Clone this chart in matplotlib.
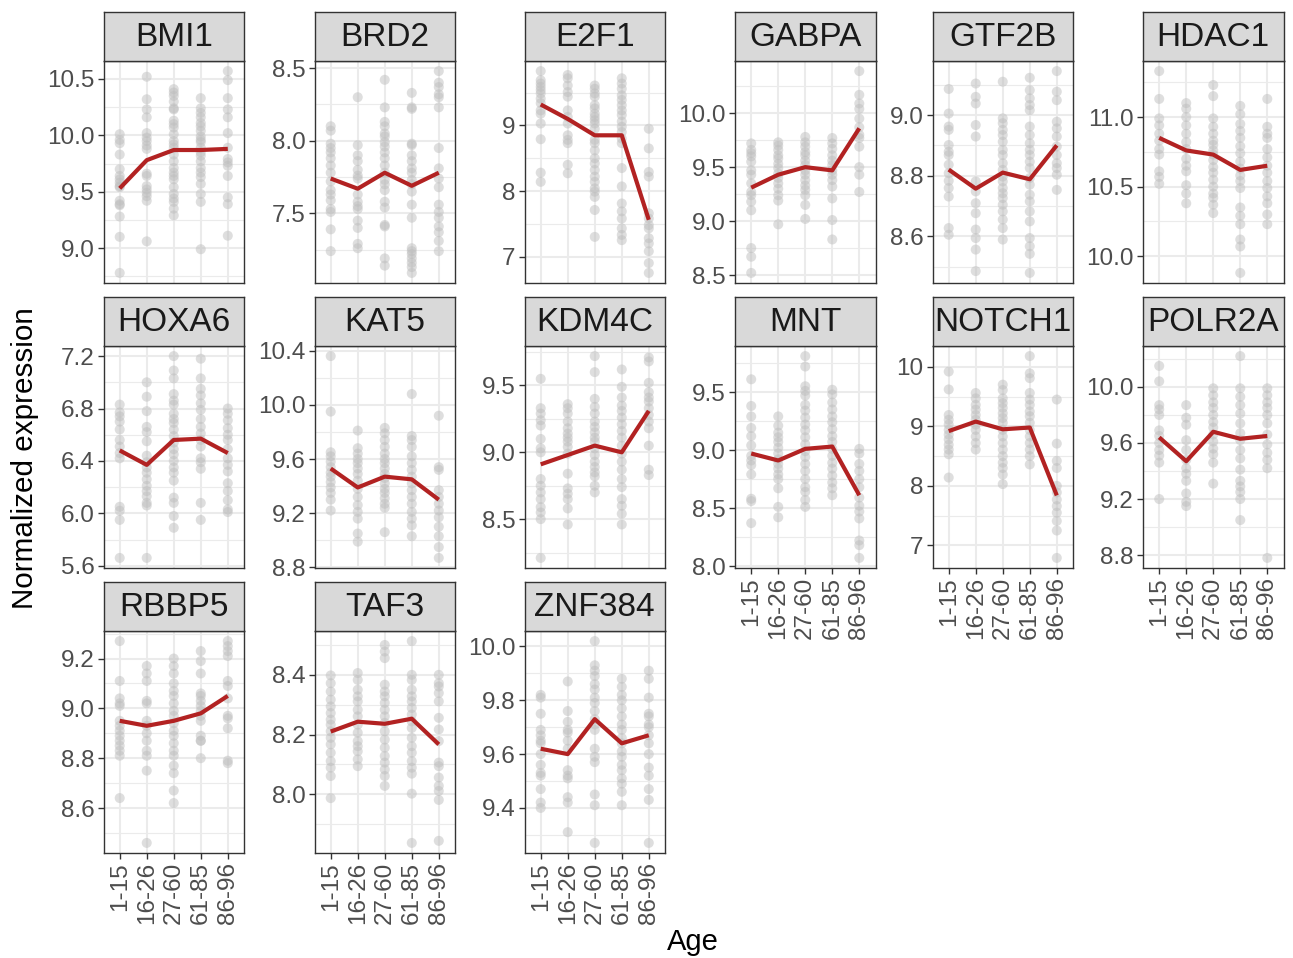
import numpy as np
import matplotlib
matplotlib.use("Agg")
import matplotlib.pyplot as plt

plt.rcParams['font.family'] = ['Liberation Sans', 'DejaVu Sans']

age_groups = ["1-15", "16-26", "27-60", "61-85", "86-96"]

# ---- expression values per gene, one list per age group ----
bmi1_pts = [
    [10.01, 9.96, 9.93, 9.83, 9.70, 9.64, 9.61, 9.58, 9.55, 9.54, 9.42, 9.39, 9.38, 9.28, 9.10, 8.78],
    [10.52, 10.32, 10.23, 10.16, 10.02, 9.98, 9.95, 9.91, 9.88, 9.66, 9.64, 9.55, 9.52, 9.49, 9.46, 9.42, 9.06],
    [10.41, 10.38, 10.35, 10.30, 10.24, 10.23, 10.13, 10.10, 10.07, 10.01, 9.95, 9.92, 9.89, 9.83, 9.77,
     9.71, 9.67, 9.64, 9.61, 9.54, 9.48, 9.44, 9.41, 9.35, 9.29],
    [10.33, 10.24, 10.20, 10.16, 10.11, 10.08, 10.04, 9.99, 9.96, 9.94, 9.89, 9.85, 9.82, 9.77, 9.71,
     9.67, 9.63, 9.57, 9.48, 9.41, 8.99],
    [10.57, 10.49, 10.33, 10.23, 10.16, 10.02, 9.89, 9.79, 9.76, 9.73, 9.64, 9.45, 9.39, 9.11],
]
bmi1_mean = [9.53, 9.78, 9.87, 9.87, 9.88]
bmi1_ticks = ["9.0", "9.5", "10.0", "10.5"]

brd2_pts = [
    [8.10, 8.07, 7.98, 7.95, 7.92, 7.88, 7.83, 7.78, 7.72, 7.66, 7.63, 7.59, 7.53, 7.51, 7.39, 7.24],
    [8.30, 7.97, 7.90, 7.86, 7.80, 7.76, 7.74, 7.63, 7.58, 7.55, 7.53, 7.45, 7.40, 7.29, 7.26],
    [8.42, 8.23, 8.13, 8.10, 8.05, 8.03, 7.99, 7.96, 7.92, 7.88, 7.83, 7.78, 7.73, 7.70, 7.66, 7.58,
     7.54, 7.42, 7.41, 7.19, 7.14],
    [8.33, 8.23, 8.22, 7.98, 7.97, 7.90, 7.86, 7.81, 7.78, 7.73, 7.70, 7.65, 7.56, 7.47, 7.26, 7.24,
     7.22, 7.19, 7.16, 7.13, 7.09],
    [8.48, 8.40, 8.37, 8.32, 8.30, 8.23, 7.95, 7.81, 7.74, 7.68, 7.56, 7.51, 7.47, 7.41, 7.37, 7.31, 7.24],
]
brd2_mean = [7.74, 7.67, 7.78, 7.69, 7.78]
brd2_ticks = ["7.5", "8.0", "8.5"]

e2f1_pts = [
    [9.83, 9.69, 9.64, 9.59, 9.54, 9.49, 9.41, 9.34, 9.23, 9.18, 9.03, 8.79, 8.28, 8.14],
    [9.77, 9.72, 9.61, 9.51, 9.44, 9.23, 9.13, 9.03, 8.85, 8.78, 8.73, 8.40, 8.27],
    [9.61, 9.56, 9.49, 9.44, 9.31, 9.26, 9.18, 9.13, 9.08, 9.03, 8.95, 8.78, 8.73, 8.62, 8.50, 8.42,
     8.32, 8.22, 8.14, 8.04, 7.99, 7.91, 7.71, 7.30],
    [9.72, 9.64, 9.56, 9.46, 9.39, 9.31, 9.23, 9.16, 9.06, 8.98, 8.90, 8.80, 8.73, 8.35, 8.07, 7.81,
     7.69, 7.58, 7.43, 7.33, 7.25],
    [8.95, 8.65, 8.29, 8.22, 7.66, 7.58, 7.48, 7.43, 7.28, 7.20, 7.08, 6.90, 6.75],
]
e2f1_mean = [9.32, 9.10, 8.85, 8.85, 7.56]
e2f1_ticks = ["7", "8", "9"]

gabpa_pts = [
    [9.72, 9.66, 9.63, 9.60, 9.55, 9.47, 9.43, 9.35, 9.27, 9.24, 9.18, 9.10, 8.75, 8.67, 8.52],
    [9.73, 9.70, 9.66, 9.61, 9.58, 9.53, 9.49, 9.44, 9.40, 9.35, 9.30, 9.24, 9.19, 8.97],
    [9.78, 9.73, 9.69, 9.64, 9.61, 9.56, 9.52, 9.47, 9.43, 9.38, 9.33, 9.29, 9.24, 9.15, 9.02],
    [9.77, 9.72, 9.67, 9.61, 9.56, 9.52, 9.47, 9.43, 9.38, 9.32, 9.21, 9.01, 8.83],
    [10.39, 10.17, 10.09, 10.04, 9.95, 9.87, 9.80, 9.77, 9.69, 9.50, 9.43, 9.27],
]
gabpa_mean = [9.31, 9.43, 9.50, 9.47, 9.86]
gabpa_ticks = ["8.5", "9.0", "9.5", "10.0"]

gtf2b_pts = [
    [9.086, 9.005, 8.962, 8.951, 8.901, 8.879, 8.868, 8.836, 8.808, 8.783, 8.759, 8.731, 8.627, 8.605],
    [9.104, 9.060, 9.038, 8.967, 8.929, 8.781, 8.748, 8.709, 8.676, 8.622, 8.594, 8.556, 8.485],
    [9.110, 8.989, 8.973, 8.951, 8.934, 8.912, 8.885, 8.868, 8.841, 8.819, 8.797, 8.781, 8.759,
     8.742, 8.726, 8.704, 8.682, 8.655, 8.627, 8.589],
    [9.123, 9.082, 9.055, 9.033, 9.016, 8.962, 8.934, 8.907, 8.885, 8.868, 8.846, 8.825, 8.792,
     8.770, 8.737, 8.715, 8.682, 8.649, 8.594, 8.567, 8.542, 8.479],
    [9.145, 9.077, 9.049, 8.978, 8.956, 8.929, 8.896, 8.868, 8.841, 8.825, 8.803, 8.753],
]
gtf2b_mean = [8.82, 8.757, 8.81, 8.788, 8.90]
gtf2b_ticks = ["8.6", "8.8", "9.0"]

hdac1_pts = [
    [11.33, 11.13, 10.99, 10.94, 10.88, 10.83, 10.77, 10.73, 10.61, 10.57, 10.52],
    [11.10, 11.06, 11.00, 10.94, 10.88, 10.82, 10.77, 10.70, 10.65, 10.61, 10.51, 10.45, 10.38],
    [11.23, 11.15, 10.99, 10.93, 10.88, 10.83, 10.80, 10.76, 10.73, 10.69, 10.64, 10.60, 10.55,
     10.50, 10.45, 10.42, 10.37, 10.31],
    [11.08, 11.02, 10.95, 10.90, 10.85, 10.79, 10.74, 10.68, 10.63, 10.58, 10.54, 10.49, 10.35,
     10.29, 10.23, 10.12, 10.07, 9.88],
    [11.13, 10.93, 10.88, 10.85, 10.77, 10.71, 10.65, 10.60, 10.54, 10.49, 10.43, 10.38, 10.30, 10.23],
]
hdac1_mean = [10.85, 10.76, 10.73, 10.62, 10.65]
hdac1_ticks = ["10.0", "10.5", "11.0"]

hoxa6_pts = [
    [6.83, 6.77, 6.74, 6.70, 6.64, 6.56, 6.51, 6.46, 6.42, 6.05, 6.02, 5.95, 5.66],
    [7.00, 6.89, 6.78, 6.66, 6.62, 6.55, 6.44, 6.39, 6.35, 6.31, 6.26, 6.21, 6.17, 6.13, 6.08, 6.06, 5.66],
    [7.20, 7.09, 7.03, 6.91, 6.86, 6.83, 6.76, 6.72, 6.69, 6.64, 6.59, 6.54, 6.49, 6.45, 6.40, 6.35,
     6.31, 6.25, 6.12, 6.08, 5.98, 5.89],
    [7.18, 7.03, 6.95, 6.90, 6.84, 6.79, 6.72, 6.66, 6.61, 6.56, 6.51, 6.42, 6.39, 6.34, 6.08, 5.95],
    [6.80, 6.76, 6.71, 6.65, 6.60, 6.56, 6.49, 6.42, 6.37, 6.32, 6.23, 6.17, 6.10, 6.03, 6.01],
]
hoxa6_mean = [6.48, 6.37, 6.56, 6.57, 6.46]
hoxa6_ticks = ["5.6", "6.0", "6.4", "6.8", "7.2"]

kat5_pts = [
    [10.36, 9.95, 9.65, 9.62, 9.58, 9.54, 9.50, 9.47, 9.43, 9.39, 9.35, 9.30, 9.22],
    [9.81, 9.68, 9.64, 9.60, 9.57, 9.53, 9.49, 9.44, 9.38, 9.32, 9.26, 9.21, 9.16, 9.05, 8.99],
    [9.83, 9.79, 9.74, 9.69, 9.64, 9.60, 9.57, 9.53, 9.49, 9.46, 9.42, 9.38, 9.35, 9.31, 9.27, 9.24, 9.06],
    [10.08, 9.77, 9.74, 9.69, 9.62, 9.57, 9.52, 9.47, 9.42, 9.37, 9.32, 9.27, 9.21, 9.16, 9.11, 9.03],
    [9.92, 9.54, 9.52, 9.37, 9.32, 9.27, 9.22, 9.17, 9.10, 9.03, 8.95, 8.87],
]
kat5_mean = [9.53, 9.39, 9.47, 9.45, 9.30]
kat5_ticks = ["8.8", "9.2", "9.6", "10.0", "10.4"]

kdm4c_pts = [
    [9.55, 9.33, 9.29, 9.24, 9.20, 9.10, 9.03, 9.00, 8.80, 8.75, 8.70, 8.65, 8.59, 8.55, 8.50, 8.21],
    [9.36, 9.33, 9.29, 9.23, 9.18, 9.14, 9.11, 9.08, 9.04, 8.99, 8.84, 8.73, 8.69, 8.65, 8.58, 8.46],
    [9.72, 9.60, 9.40, 9.34, 9.29, 9.23, 9.19, 9.15, 9.11, 9.08, 9.03, 8.98, 8.93, 8.89, 8.85, 8.82,
     8.75, 8.70],
    [9.62, 9.49, 9.41, 9.35, 9.31, 9.26, 9.21, 9.16, 9.11, 9.05, 8.99, 8.93, 8.87, 8.80, 8.74, 8.65,
     8.60, 8.54, 8.46],
    [9.71, 9.68, 9.52, 9.45, 9.41, 9.38, 9.33, 9.28, 9.23, 9.18, 9.05, 8.87, 8.83],
]
kdm4c_mean = [8.91, 8.98, 9.05, 9.00, 9.31]
kdm4c_ticks = ["8.5", "9.0", "9.5"]

mnt_pts = [
    [9.61, 9.38, 9.29, 9.19, 9.12, 9.04, 8.95, 8.91, 8.87, 8.79, 8.58, 8.56, 8.37],
    [9.29, 9.21, 9.15, 9.11, 9.07, 9.02, 8.97, 8.92, 8.88, 8.84, 8.79, 8.75, 8.67, 8.51, 8.42],
    [9.81, 9.72, 9.55, 9.51, 9.47, 9.39, 9.34, 9.28, 9.22, 9.17, 9.11, 9.05, 8.99, 8.94, 8.88, 8.82,
     8.75, 8.68, 8.64, 8.57, 8.51],
    [9.52, 9.48, 9.41, 9.35, 9.29, 9.24, 9.18, 9.12, 9.07, 9.01, 8.95, 8.89, 8.84, 8.78, 8.72, 8.67, 8.61],
    [9.01, 8.97, 8.88, 8.82, 8.75, 8.68, 8.59, 8.52, 8.47, 8.41, 8.22, 8.18, 8.07],
]
mnt_mean = [8.97, 8.91, 9.01, 9.03, 8.61]
mnt_ticks = ["8.0", "8.5", "9.0", "9.5"]

notch1_pts = [
    [9.92, 9.62, 9.19, 9.11, 9.03, 8.94, 8.86, 8.78, 8.69, 8.61, 8.53, 8.14],
    [9.56, 9.47, 9.36, 9.28, 9.19, 9.11, 9.03, 8.94, 8.83, 8.72, 8.61],
    [9.70, 9.61, 9.47, 9.39, 9.31, 9.22, 9.14, 9.06, 8.94, 8.83, 8.72, 8.61, 8.50, 8.39, 8.30, 8.19, 8.03],
    [10.18, 9.89, 9.81, 9.56, 9.45, 9.36, 9.25, 9.17, 9.06, 8.94, 8.83, 8.72, 8.61, 8.50, 8.36],
    [9.45, 8.71, 8.42, 8.30, 8.00, 7.89, 7.77, 7.66, 7.55, 7.41, 7.25, 6.79],
]
notch1_mean = [8.92, 9.08, 8.95, 8.98, 7.84]
notch1_ticks = ["7", "8", "9", "10"]

polr2a_pts = [
    [10.15, 10.04, 9.87, 9.84, 9.80, 9.69, 9.65, 9.60, 9.55, 9.51, 9.46, 9.20],
    [9.87, 9.78, 9.73, 9.62, 9.55, 9.48, 9.42, 9.38, 9.33, 9.24, 9.18, 9.15],
    [9.99, 9.94, 9.89, 9.85, 9.80, 9.75, 9.71, 9.66, 9.61, 9.56, 9.52, 9.46, 9.31],
    [10.22, 9.99, 9.93, 9.87, 9.81, 9.74, 9.67, 9.62, 9.55, 9.49, 9.41, 9.33, 9.29, 9.25, 9.20, 9.05],
    [9.99, 9.94, 9.89, 9.85, 9.80, 9.74, 9.66, 9.59, 9.53, 9.48, 9.42, 8.78],
]
polr2a_mean = [9.64, 9.47, 9.68, 9.63, 9.65]
polr2a_ticks = ["8.8", "9.2", "9.6", "10.0"]

rbbp5_pts = [
    [9.27, 9.11, 9.04, 9.02, 9.01, 8.95, 8.93, 8.91, 8.89, 8.87, 8.85, 8.83, 8.81, 8.64],
    [9.17, 9.14, 9.11, 9.03, 9.02, 8.95, 8.93, 8.90, 8.87, 8.83, 8.81, 8.75, 8.46],
    [9.20, 9.17, 9.14, 9.10, 9.07, 9.05, 9.02, 8.99, 8.97, 8.94, 8.91, 8.89, 8.86, 8.83, 8.81, 8.77,
     8.74, 8.67, 8.62],
    [9.23, 9.19, 9.14, 9.06, 9.05, 9.03, 9.01, 8.99, 8.97, 8.95, 8.89, 8.87, 8.87, 8.80],
    [9.27, 9.25, 9.23, 9.21, 9.11, 9.09, 9.04, 8.97, 8.96, 8.92, 8.79, 8.78],
]
rbbp5_mean = [8.95, 8.93, 8.95, 8.98, 9.05]
rbbp5_ticks = ["8.6", "8.8", "9.0", "9.2"]

taf3_pts = [
    [8.398, 8.372, 8.344, 8.317, 8.294, 8.272, 8.250, 8.233, 8.211, 8.189, 8.167, 8.139, 8.111,
     8.089, 8.061, 7.987],
    [8.406, 8.383, 8.350, 8.328, 8.311, 8.283, 8.261, 8.233, 8.206, 8.178, 8.161, 8.144, 8.117, 8.094],
    [8.500, 8.478, 8.456, 8.367, 8.344, 8.328, 8.306, 8.283, 8.261, 8.239, 8.211, 8.183, 8.156,
     8.128, 8.106, 8.083, 8.061, 8.028],
    [8.513, 8.400, 8.383, 8.350, 8.328, 8.311, 8.289, 8.267, 8.244, 8.222, 8.189, 8.161, 8.139,
     8.111, 8.089, 8.069, 8.002, 7.837],
    [8.400, 8.372, 8.361, 8.339, 8.311, 8.256, 8.217, 8.178, 8.106, 8.094, 8.056, 8.028, 8.011,
     7.981, 7.844],
]
taf3_mean = [8.21, 8.243, 8.236, 8.253, 8.167]
taf3_ticks = ["8.0", "8.2", "8.4"]

znf384_pts = [
    [9.82, 9.81, 9.75, 9.69, 9.67, 9.65, 9.64, 9.60, 9.56, 9.53, 9.52, 9.47, 9.42, 9.40],
    [9.87, 9.76, 9.72, 9.69, 9.68, 9.65, 9.62, 9.54, 9.52, 9.51, 9.44, 9.42, 9.31],
    [10.02, 9.93, 9.91, 9.89, 9.86, 9.84, 9.81, 9.79, 9.76, 9.73, 9.71, 9.69, 9.62, 9.59, 9.57,
     9.45, 9.41, 9.27],
    [9.88, 9.85, 9.82, 9.80, 9.77, 9.74, 9.71, 9.69, 9.66, 9.64, 9.61, 9.59, 9.56, 9.54, 9.51,
     9.49, 9.46, 9.41],
    [9.91, 9.88, 9.81, 9.75, 9.74, 9.71, 9.70, 9.67, 9.64, 9.60, 9.55, 9.52, 9.47, 9.43, 9.27],
]
znf384_mean = [9.62, 9.60, 9.73, 9.64, 9.67]
znf384_ticks = ["9.4", "9.6", "9.8", "10.0"]

panels = [
    ("BMI1", bmi1_pts, bmi1_mean, bmi1_ticks),
    ("BRD2", brd2_pts, brd2_mean, brd2_ticks),
    ("E2F1", e2f1_pts, e2f1_mean, e2f1_ticks),
    ("GABPA", gabpa_pts, gabpa_mean, gabpa_ticks),
    ("GTF2B", gtf2b_pts, gtf2b_mean, gtf2b_ticks),
    ("HDAC1", hdac1_pts, hdac1_mean, hdac1_ticks),
    ("HOXA6", hoxa6_pts, hoxa6_mean, hoxa6_ticks),
    ("KAT5", kat5_pts, kat5_mean, kat5_ticks),
    ("KDM4C", kdm4c_pts, kdm4c_mean, kdm4c_ticks),
    ("MNT", mnt_pts, mnt_mean, mnt_ticks),
    ("NOTCH1", notch1_pts, notch1_mean, notch1_ticks),
    ("POLR2A", polr2a_pts, polr2a_mean, polr2a_ticks),
    ("RBBP5", rbbp5_pts, rbbp5_mean, rbbp5_ticks),
    ("TAF3", taf3_pts, taf3_mean, taf3_ticks),
    ("ZNF384", znf384_pts, znf384_mean, znf384_ticks),
]

# ---- layout (pixels) ----
W, H = 1293, 958
fig = plt.figure(figsize=(W / 100, H / 100), dpi=100)

col_left = [103.5, 314.5, 524.5, 735.0, 932.5, 1143.0]
panel_w = 140.5
row_top = [61.0, 346.0, 631.0]
panel_h = 222.0
strip_h = 49.0
ncol = 6
n = len(panels)

BORDER = "#333333"
GRID = "#EBEBEB"
TICKTXT = "#4D4D4D"
TICK_FS = 17.5


def to_fig(x, y, w, h):
    return [x / W, 1 - (y + h) / H, w / W, h / H]


for k, (gene, pts, mean, ticks) in enumerate(panels):
    r, c = divmod(k, ncol)
    x0, y0 = col_left[c], row_top[r]
    ax = fig.add_axes(to_fig(x0, y0, panel_w, panel_h))
    xs = np.arange(1, len(age_groups) + 1)

    for i, vals in enumerate(pts):
        ax.scatter(np.full(len(vals), xs[i]), vals, s=52, color="#BEBEBE",
                   alpha=0.5, edgecolors="none", zorder=3)
    ax.plot(xs, mean, color="#B22222", lw=3.0, zorder=4, solid_capstyle="butt")

    major = [float(t) for t in ticks]
    step = major[1] - major[0]
    minor = [major[0] - step / 2] + [m + step / 2 for m in major]
    ax.set_yticks(major)
    ax.set_yticklabels(ticks)
    ax.set_yticks(minor, minor=True)
    ax.set_xticks(xs)

    # free y scale: data range plus 5% on each side
    allv = np.concatenate([np.asarray(v, float) for v in pts])
    lo, hi = allv.min(), allv.max()
    pad = 0.05 * (hi - lo)
    ax.set_ylim(lo - pad, hi + pad)
    ax.set_xlim(0.4, len(age_groups) + 0.6)

    ax.grid(which="major", color=GRID, lw=1.5, zorder=0)
    ax.grid(which="minor", axis="y", color=GRID, lw=0.8, zorder=0)
    ax.set_axisbelow(True)

    ax.tick_params(axis="y", which="major", length=4.5, width=1.0, color=BORDER,
                   labelsize=TICK_FS, labelcolor=TICKTXT, pad=2)
    ax.tick_params(which="minor", length=0)

    # x axis labels only on the lowest panel of each column
    bottom = (k + ncol >= n)
    if bottom:
        ax.set_xticklabels(age_groups, rotation=90, va="top", ha="center")
        ax.tick_params(axis="x", which="major", length=4.5, width=1.0, color=BORDER,
                       labelsize=TICK_FS, labelcolor=TICKTXT, pad=2)
    else:
        ax.set_xticklabels([])
        ax.tick_params(axis="x", which="major", length=0)

    for sp in ax.spines.values():
        sp.set_color(BORDER)
        sp.set_linewidth(1.0)

    # facet strip
    sax = fig.add_axes(to_fig(x0, y0 - strip_h, panel_w, strip_h))
    sax.set_facecolor("#D9D9D9")
    sax.set_xticks([])
    sax.set_yticks([])
    for sp in sax.spines.values():
        sp.set_color(BORDER)
        sp.set_linewidth(1.0)
    sax.text(0.5, 0.47, gene, transform=sax.transAxes, ha="center", va="center",
             fontsize=24, color="#1A1A1A")

fig.text(25 / W, 1 - 458 / H, "Normalized expression", rotation=90,
         ha="center", va="center", fontsize=21.3, color="black")
fig.text(693 / W, 1 - 942 / H, "Age", ha="center", va="center",
         fontsize=21, color="black")

fig.savefig("out.png", dpi=100, facecolor="white")
